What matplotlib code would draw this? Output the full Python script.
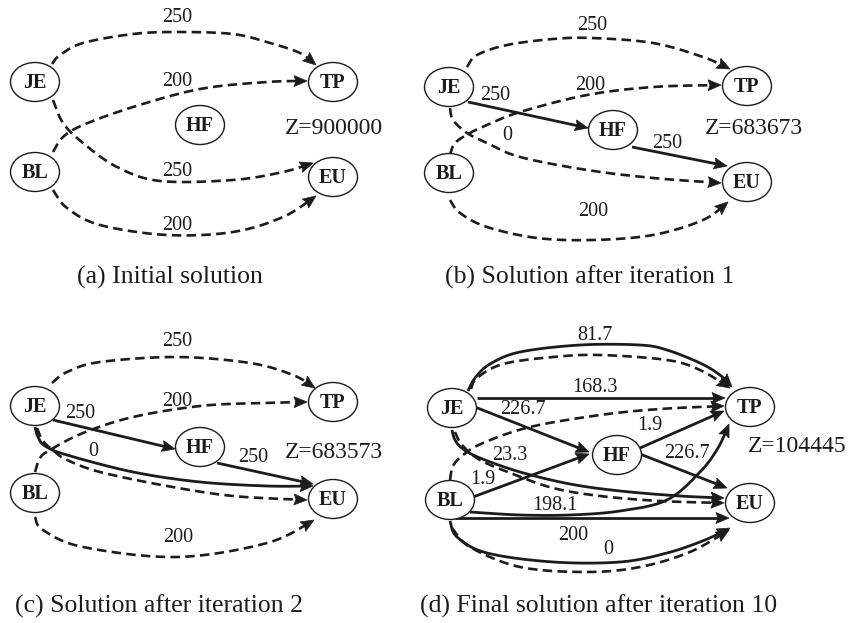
import numpy as np
import matplotlib.pyplot as plt
from matplotlib.patches import Ellipse, Polygon

# fluxos em cada arco (rotulos), por painel
fluxo_a = ['250', '200', '250', '200']                      # JE-TP, BL-TP, JE-EU, BL-EU
fluxo_b = ['250', '200', '0', '200', '250', '250']          # + JE-HF, HF-EU
fluxo_c = ['250', '200', '0', '250', '250', '200']
fluxo_d = ['81.7', '168.3', '226.7', '1.9', '23.3', '1.9', '226.7', '198.1', '200', '0']
valor_z = ['Z=900000', 'Z=683673', 'Z=683573', 'Z=104445']
legendas = ['(a) Initial solution', '(b) Solution after iteration 1',
            '(c) Solution after iteration 2', '(d) Final solution after iteration 10']
nos = ['JE', 'BL', 'HF', 'TP', 'EU']

# layout dos nos (pixels) em cada painel
pos_a = {'JE': (35, 82), 'BL': (35, 172), 'HF': (200, 125), 'TP': (333, 82), 'EU': (333, 177)}
pos_b = {'JE': (449, 87), 'BL': (449, 173), 'HF': (613, 130), 'TP': (747, 86), 'EU': (747, 182)}
pos_c = {'JE': (35, 406), 'BL': (35, 493), 'HF': (200, 447), 'TP': (333, 402), 'EU': (333, 499)}
pos_d = {'JE': (452, 408), 'BL': (450, 500), 'HF': (617, 455), 'TP': (750, 407), 'EU': (750, 503)}

# arcos: (tracejado?, pontos do caminho)
arcos_a = [
    (True, [(52, 64), (60, 55), (83, 43), (133, 34), (177, 32), (233, 34), (270, 43), (300, 53), (316, 65)]),
    (True, [(53, 152), (63, 137), (83, 125), (133, 107), (200, 89), (267, 82), (307, 81)]),
    (True, [(53, 100), (63, 123), (83, 143), (117, 167), (160, 181), (233, 180), (283, 172), (313, 163)]),
    (True, [(53, 190), (67, 208), (100, 225), (167, 235), (233, 232), (283, 217), (316, 196)]),
]
arcos_b = [
    (True, [(467, 67), (477, 55), (507, 45), (553, 39), (592, 38), (653, 43), (703, 57), (730, 69)]),
    (True, [(450, 155), (455, 143), (470, 133), (487, 125), (520, 112), (587, 95), (653, 87), (721, 85)]),
    (True, [(450, 108), (453, 120), (467, 133), (487, 143), (520, 157), (587, 170), (653, 178), (721, 183)]),
    (True, [(450, 200), (460, 213), (487, 227), (537, 238), (593, 240), (653, 235), (703, 220), (728, 202)]),
    (False, [(468, 102), (588, 128)]),
    (False, [(632, 147), (727, 166)]),
]
arcos_c = [
    (True, [(52, 383), (67, 372), (100, 362), (177, 357), (250, 363), (293, 375), (315, 388)]),
    (True, [(35, 472), (40, 458), (50, 450), (83, 433), (133, 417), (200, 406), (260, 403), (307, 402)]),
    (True, [(37, 428), (43, 441), (55, 452), (67, 460), (100, 472), (167, 486), (233, 496), (307, 500)]),
    (False, [(35, 427), (38, 437), (45, 446), (67, 455), (133, 472), (200, 482), (267, 486), (313, 486)]),
    (False, [(53, 420), (175, 449)]),
    (False, [(217, 463), (313, 484)]),
    (True, [(35, 517), (43, 530), (83, 547), (177, 557), (267, 543), (314, 520)]),
]
arcos_d = [
    (False, [(468, 391), (475, 378), (490, 364), (520, 352), (580, 345), (640, 345), (667, 350), (700, 363), (720, 375), (732, 387)]),
    (True, [(471, 389), (477, 378), (503, 364), (553, 357), (600, 355), (667, 360), (700, 370), (730, 388)]),
    (False, [(477, 398), (725, 398)]),
    (False, [(475, 407), (589, 452)]),
    (True, [(450, 480), (453, 466), (463, 455), (483, 443), (530, 427), (600, 415), (660, 409), (724, 406)]),
    (True, [(455, 432), (462, 445), (480, 460), (513, 474), (553, 488), (600, 496), (660, 501), (724, 503)]),
    (False, [(452, 430), (455, 440), (463, 449), (480, 458), (520, 472), (570, 484), (620, 491), (680, 496), (724, 498)]),
    (False, [(473, 497), (589, 454)]),
    (False, [(640, 448), (724, 411)]),
    (False, [(640, 454), (727, 488)]),
    (False, [(470, 512), (520, 515), (570, 515), (620, 511), (667, 500), (700, 472), (718, 448), (729, 424)]),
    (False, [(455, 518), (729, 518)]),
    (False, [(450, 521), (457, 537), (487, 553), (553, 562), (620, 562), (667, 553), (705, 540), (730, 528)]),
    (True, [(452, 528), (470, 547), (520, 567), (587, 572), (640, 567), (690, 552), (729, 530)]),
]

# posicao dos rotulos dos fluxos
rot_a = [(177, 18), (177, 81), (177, 172), (177, 226)]
rot_b = [(592, 25), (590, 85), (507, 136), (593, 212), (495, 96), (667, 143)]
rot_c = [(177, 342), (177, 402), (93, 452), (80, 413), (253, 457), (178, 537)]
rot_d = [(595, 336), (595, 387), (523, 409), (650, 426), (510, 455), (483, 480),
         (687, 453), (555, 505), (573, 536), (608, 550)]
pos_z = [(285, 128), (705, 128), (285, 452), (748, 447)]
pos_leg = [(77, 284), (445, 284), (15, 613), (420, 613)]

COR = '#1c1c1c'
CAB = 13   # comprimento da ponta
MEIA = 5.5   # meia largura da ponta


def spline(pts, n=24):
    P = np.array(pts, float)
    P = np.vstack([P[0], P, P[-1]])
    out = []
    t = np.linspace(0, 1, n, endpoint=False)[:, None]
    for i in range(1, len(P) - 2):
        p0, p1, p2, p3 = P[i - 1], P[i], P[i + 1], P[i + 2]
        out.append(0.5 * (2 * p1 + (p2 - p0) * t + (2 * p0 - 5 * p1 + 4 * p2 - p3) * t ** 2
                          + (-p0 + 3 * p1 - 3 * p2 + p3) * t ** 3))
    out.append(P[-2][None])
    return np.vstack(out)


def arco(ax, pts, tracejado):
    xy = spline(pts)
    d = np.r_[0, np.cumsum(np.hypot(*np.diff(xy, axis=0).T))]
    tot = d[-1]
    base = np.array([np.interp(tot - CAB, d, xy[:, 0]), np.interp(tot - CAB, d, xy[:, 1])])
    corte = tot - CAB * 0.6
    fim = np.array([np.interp(corte, d, xy[:, 0]), np.interp(corte, d, xy[:, 1])])
    linha = np.vstack([xy[d < corte], fim])
    if tracejado:
        ax.plot(linha[:, 0], linha[:, 1], color=COR, lw=1.9, dashes=(3.6, 2.0),
                dash_capstyle='butt', zorder=2)
    else:
        ax.plot(linha[:, 0], linha[:, 1], color=COR, lw=2.0, solid_capstyle='butt', zorder=2)
    ponta = xy[-1]
    u = (ponta - base) / np.linalg.norm(ponta - base)
    nrm = np.array([-u[1], u[0]])
    ax.add_patch(Polygon([ponta, base + nrm * MEIA, base + u * 2, base - nrm * MEIA],
                         closed=True, fc=COR, ec=COR, lw=0.5, zorder=4))


fig = plt.figure(figsize=(8.49, 6.23), dpi=100)
ax = fig.add_axes([0, 0, 1, 1])
ax.set_xlim(0, 849)
ax.set_ylim(623, 0)
ax.axis('off')

paineis = [(pos_a, arcos_a, fluxo_a, rot_a), (pos_b, arcos_b, fluxo_b, rot_b),
           (pos_c, arcos_c, fluxo_c, rot_c), (pos_d, arcos_d, fluxo_d, rot_d)]

for k, (pos, arcos, fluxos, rots) in enumerate(paineis):
    for tracejado, pts in arcos:
        arco(ax, pts, tracejado)
    for nome in nos:
        x, y = pos[nome]
        ax.add_patch(Ellipse((x, y), 49, 39, fc='white', ec=COR, lw=1.0, zorder=3))
        ax.text(x, y + 1, nome, ha='center', va='center', fontsize=14.5, fontweight='bold',
                family='Liberation Serif', color=COR, zorder=5)
    for txt, (x, y) in zip(fluxos, rots):
        ax.text(x, y, txt, ha='center', va='center', fontsize=14.5,
                family='Liberation Serif', color=COR, zorder=5)
    ax.text(pos_z[k][0], pos_z[k][1], valor_z[k], ha='left', va='center', fontsize=17,
            family='Liberation Serif', color=COR)
    ax.text(pos_leg[k][0], pos_leg[k][1], legendas[k], ha='left', va='baseline', fontsize=18.5,
            family='Liberation Serif', color=COR)

fig.savefig('out.png', dpi=100)
